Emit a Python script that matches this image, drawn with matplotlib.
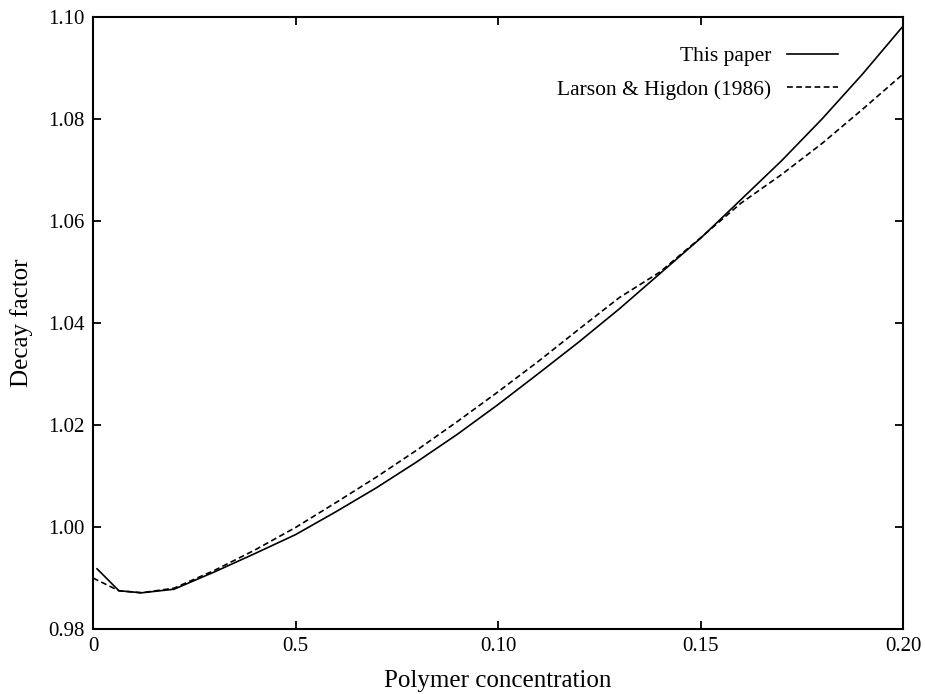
import matplotlib
matplotlib.use("Agg")
import matplotlib.pyplot as plt
from matplotlib.ticker import FixedLocator

plt.rcParams["font.family"] = ["Liberation Serif", "DejaVu Serif"]

# Decay factor vs. polymer concentration
conc_this = [0.001, 0.0064, 0.012, 0.02, 0.03, 0.04, 0.05, 0.06, 0.07, 0.08,
             0.09, 0.10, 0.11, 0.12, 0.13, 0.14, 0.15, 0.16, 0.17, 0.18,
             0.19, 0.20]
decay_this = [0.9918, 0.9875, 0.9871, 0.9878, 0.9912, 0.9948, 0.9985, 1.0030,
              1.0077, 1.0128, 1.0182, 1.0240, 1.0301, 1.0363, 1.0428, 1.0497,
              1.0566, 1.0642, 1.0718, 1.0800, 1.0888, 1.0982]

conc_lh = [0.0, 0.0064, 0.012, 0.02, 0.03, 0.04, 0.05, 0.06, 0.07, 0.08,
           0.09, 0.10, 0.11, 0.12, 0.13, 0.14, 0.15, 0.16, 0.17, 0.18,
           0.19, 0.20]
decay_lh = [0.9900, 0.9875, 0.9871, 0.9880, 0.9915, 0.9955, 0.9999, 1.0048,
            1.0098, 1.0151, 1.0207, 1.0265, 1.0325, 1.0388, 1.0450, 1.0500,
            1.0567, 1.0635, 1.0691, 1.0752, 1.0819, 1.0888]

x_ticks = [0.0, 0.05, 0.10, 0.15, 0.20]
x_tick_labels = ["0", "0.5", "0.10", "0.15", "0.20"]
y_ticks = [0.98, 1.00, 1.02, 1.04, 1.06, 1.08, 1.10]
y_tick_labels = ["0.98", "1.00", "1.02", "1.04", "1.06", "1.08", "1.10"]

fig = plt.figure(figsize=(9.25, 6.94), dpi=100)
ax = fig.add_axes([93 / 925, 1 - 629 / 694, 810 / 925, 612 / 694])

ax.plot(conc_this, decay_this, color="black", lw=1.2, label="This paper")
ax.plot(conc_lh, decay_lh, color="black", lw=1.2, linestyle=(0, (3.5, 2.0)),
        label="Larson & Higdon (1986)")

ax.set_xlim(0, 0.20)
ax.set_ylim(0.98, 1.10)
ax.xaxis.set_major_locator(FixedLocator(x_ticks))
ax.set_xticklabels(x_tick_labels)
ax.yaxis.set_major_locator(FixedLocator(y_ticks))
ax.set_yticklabels(y_tick_labels)

ax.tick_params(direction="in", length=6, width=1.3, top=True, right=True,
               labelsize=15, pad=6)
for s in ax.spines.values():
    s.set_linewidth(1.5)

ax.set_xlabel("Polymer concentration", fontsize=18, labelpad=10)
ax.set_ylabel("Decay factor", fontsize=18, labelpad=11)

ax.legend(loc="upper right", bbox_to_anchor=(0.92, 0.952), frameon=False,
          markerfirst=False, fontsize=15.5, handlelength=2.4,
          handletextpad=0.7, labelspacing=0.62, borderpad=0, borderaxespad=0)

fig.savefig("out.png", dpi=100)
